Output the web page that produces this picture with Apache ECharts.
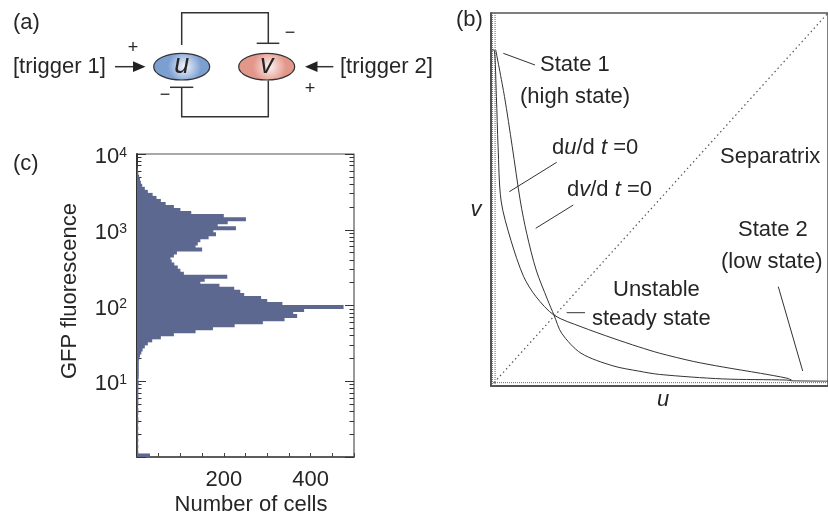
<!DOCTYPE html>
<html>
<head>
<meta charset="utf-8">
<title>Toggle switch</title>
<script src="https://cdn.jsdelivr.net/npm/echarts@6.0.0/dist/echarts.min.js"></script>
<style>
  html, body { margin: 0; padding: 0; background: #fff; }
  #chart { width: 828px; height: 518px; }
</style>
</head>
<body>
<div id="chart"></div>
<script>
// (c) histogram, log10 bins of GFP fluorescence, counts
var binStart = 0;      // log10 of lowest edge (10^0)
var binWidth = 0.04;   // log10 width of a bin
var cellCounts = [
  30, 3, 2, 3, 2, 3, 2, 3, 2, 3,
  2, 3, 3, 2, 3, 3, 2, 3, 3, 3,
  3, 3, 3, 3, 4, 3, 4, 4, 4, 4,
  4, 4, 5, 7, 10, 13, 18, 25, 35, 55,
  85, 135, 175, 225, 290, 340, 369, 360, 385, 476,
  335, 300, 286, 247, 238, 224, 190, 146, 156, 208,
  108, 100, 94, 86, 80, 77, 85, 92, 150, 135,
  140, 146, 165, 182, 176, 228, 186, 209, 251, 200,
  125, 100, 85, 66, 55, 45, 36, 25, 18, 12,
  9, 7, 5, 3, 2, 1
];
var countTicks = [200, 400];
var fluorDecades = [1, 2, 3, 4];

// (b) nullclines, (u, v), both axes 0..1
var duNullcline = [
  [0.003, 0.901], [0.009, 0.901], [0.016, 0.776], [0.021, 0.642], [0.030, 0.496],
  [0.059, 0.391], [0.097, 0.293], [0.134, 0.239], [0.187, 0.190], [0.267, 0.159],
  [0.362, 0.128], [0.438, 0.105], [0.500, 0.088], [0.600, 0.066], [0.688, 0.051],
  [0.800, 0.034], [0.878, 0.021], [0.892, 0.016]
];
var dvNullcline = [
  [0.014, 0.901], [0.040, 0.776], [0.063, 0.642], [0.087, 0.496], [0.106, 0.409],
  [0.134, 0.311], [0.168, 0.231], [0.187, 0.190], [0.210, 0.141], [0.267, 0.088],
  [0.362, 0.054], [0.438, 0.040], [0.500, 0.031], [0.688, 0.019], [0.878, 0.016],
  [0.892, 0.014], [1.0, 0.013]
];
var separatrix = [[0, 0], [1, 1]];
var uZeroLine1 = [[0.004, 0], [0.004, 1]];
var uZeroLine2 = [[0.012, 0], [0.012, 1]];
var vZeroLine = [[0, 0.009], [1, 0.009]];

var ink = '#262626';
var fam = '"Liberation Sans", Arial, sans-serif';

var minorTicks = [];
for (var d = 0; d < 4; d++) {
  for (var k = 2; k <= 9; k++) minorTicks.push(d + Math.log10(k));
}

var histData = cellCounts.map(function (c, i) {
  return [c, binStart + i * binWidth, binStart + (i + 1) * binWidth];
});

function renderBin(params, api) {
  var p0 = api.coord([0, api.value(1)]);
  var p1 = api.coord([api.value(0), api.value(2)]);
  // half a pixel of overlap so neighbouring bins don't leave seams
  return {
    type: 'rect',
    shape: { x: p0[0], y: p1[1] - 0.5, width: p1[0] - p0[0], height: p0[1] - p1[1] + 1 },
    style: { fill: '#5c6890' }
  };
}

function text(x, y, str, size, extra) {
  var el = {
    type: 'text', x: x, y: y, z: 100,
    style: {
      text: str, fill: ink, font: (size || 22) + 'px ' + fam,
      align: 'left', verticalAlign: 'middle',
      textAlign: 'left', textVerticalAlign: 'middle'
    }
  };
  if (extra) {
    for (var key in extra) {
      if (key === 'style') {
        for (var s in extra.style) el.style[s] = extra.style[s];
      } else el[key] = extra[key];
    }
  }
  return el;
}
function seg(pts, w) {
  return { type: 'polyline', z: 100, shape: { points: pts }, style: { stroke: '#333', lineWidth: w || 1, fill: null } };
}
function italic(size) {
  return { fontSize: size, fontFamily: fam, fontStyle: 'italic', fill: ink };
}
function roman(size) {
  return { fontSize: size, fontFamily: fam, fill: ink };
}

var dotted = { color: '#666', width: 1, type: 'dotted' };

var option = {
  animation: false,
  backgroundColor: '#fff',
  grid: [
    { left: 137, top: 154, width: 217, height: 303, show: true, borderColor: '#555', borderWidth: 1.2 },
    { left: 491, top: 13, width: 352, height: 373, show: true, borderColor: '#555', borderWidth: 1.5 }
  ],
  xAxis: [
    {
      gridIndex: 0, type: 'value', min: 0, max: 500, interval: 50, position: 'bottom',
      axisLine: { show: true, lineStyle: { color: '#444', width: 1.5 } },
      axisTick: { inside: true, length: 4, lineStyle: { color: '#444' } },
      axisLabel: {
        color: ink, fontSize: 22, fontFamily: fam, margin: 12,
        formatter: function (v) { return countTicks.indexOf(v) >= 0 ? String(v) : ''; }
      },
      splitLine: { show: false }
    },
    {
      gridIndex: 0, type: 'value', min: 0, max: 500, position: 'top',
      axisLine: { show: false }, axisTick: { show: false }, axisLabel: { show: false }, splitLine: { show: false }
    },
    {
      gridIndex: 1, type: 'value', min: 0, max: 1,
      axisLine: { show: true, lineStyle: { color: '#444', width: 1.5 } },
      axisTick: { show: false }, axisLabel: { show: false }, splitLine: { show: false }
    }
  ],
  yAxis: [
    {
      gridIndex: 0, type: 'value', min: 0, max: 4, interval: 1, position: 'left',
      axisLine: { show: true, lineStyle: { color: '#333', width: 2 } },
      axisTick: { inside: true, length: 9, lineStyle: { color: '#333' } },
      axisLabel: {
        color: ink, fontSize: 22, fontFamily: fam, margin: 10, padding: [6, 0, 0, 0],
        formatter: function (v) { return fluorDecades.indexOf(v) >= 0 ? '10{s|' + v + '}' : ''; },
        rich: { s: { fontSize: 14, fontFamily: fam, color: ink, verticalAlign: 'top', lineHeight: 14 } }
      },
      splitLine: { show: false }
    },
    {
      gridIndex: 0, type: 'value', min: 0, max: 4, position: 'left',
      axisLine: { show: false },
      axisTick: { inside: true, length: 4.5, customValues: minorTicks, lineStyle: { color: '#333' } },
      axisLabel: { show: false }, splitLine: { show: false }
    },
    {
      gridIndex: 0, type: 'value', min: 0, max: 4, interval: 1, position: 'right',
      axisLine: { show: false },
      axisTick: { inside: true, length: 9, lineStyle: { color: '#333' } },
      axisLabel: { show: false }, splitLine: { show: false }
    },
    {
      gridIndex: 0, type: 'value', min: 0, max: 4, position: 'right',
      axisLine: { show: false },
      axisTick: { inside: true, length: 4.5, customValues: minorTicks, lineStyle: { color: '#333' } },
      axisLabel: { show: false }, splitLine: { show: false }
    },
    {
      gridIndex: 1, type: 'value', min: 0, max: 1,
      axisLine: { show: true, lineStyle: { color: '#444', width: 1.5 } },
      axisTick: { show: false }, axisLabel: { show: false }, splitLine: { show: false }
    }
  ],
  series: [
    {
      type: 'custom', name: 'cells', xAxisIndex: 0, yAxisIndex: 0,
      renderItem: renderBin, encode: { x: 0, y: [1, 2] }, data: histData, clip: true, silent: true
    },
    {
      type: 'line', xAxisIndex: 2, yAxisIndex: 4, data: separatrix, showSymbol: false, silent: true,
      lineStyle: { color: '#555', width: 1.2, type: [1.5, 3] }
    },
    {
      type: 'line', xAxisIndex: 2, yAxisIndex: 4, data: uZeroLine1, showSymbol: false, silent: true, lineStyle: dotted
    },
    {
      type: 'line', xAxisIndex: 2, yAxisIndex: 4, data: uZeroLine2, showSymbol: false, silent: true, lineStyle: dotted
    },
    {
      type: 'line', xAxisIndex: 2, yAxisIndex: 4, data: vZeroLine, showSymbol: false, silent: true, lineStyle: dotted
    },
    {
      type: 'line', name: 'du/dt=0', xAxisIndex: 2, yAxisIndex: 4, data: duNullcline, smooth: 0.3,
      showSymbol: false, silent: true, lineStyle: { color: '#333', width: 1 }
    },
    {
      type: 'line', name: 'dv/dt=0', xAxisIndex: 2, yAxisIndex: 4, data: dvNullcline, smooth: 0.3,
      showSymbol: false, silent: true, lineStyle: { color: '#333', width: 1 }
    }
  ],
  graphic: [
    // panel letters
    text(13, 23, '(a)'),
    text(456, 20, '(b)'),
    text(13, 164, '(c)'),

    // (a) wiring diagram
    seg([[181.7, 45], [181.7, 12.7], [268.3, 12.7], [268.3, 43.3]], 1.5),
    seg([[256.7, 43.3], [279.3, 43.3]], 1.5),
    seg([[268.3, 80.5], [268.3, 116.7], [181.7, 116.7], [181.7, 87.3]], 1.5),
    seg([[170, 87.3], [193.3, 87.3]], 1.5),
    {
      type: 'ellipse', z: 100, shape: { cx: 181.7, cy: 66.7, rx: 28, ry: 13.3 },
      style: {
        stroke: '#333', lineWidth: 1.2,
        fill: new echarts.graphic.RadialGradient(0.55, 0.5, 0.6, [
          { offset: 0, color: '#f4f7fc' }, { offset: 1, color: '#7c9fd2' }
        ])
      }
    },
    {
      type: 'ellipse', z: 100, shape: { cx: 266.7, cy: 66.7, rx: 28, ry: 13.3 },
      style: {
        stroke: '#333', lineWidth: 1.2,
        fill: new echarts.graphic.RadialGradient(0.55, 0.5, 0.6, [
          { offset: 0, color: '#fcf3f1' }, { offset: 1, color: '#e3968a' }
        ])
      }
    },
    text(181.7, 65, 'u', 27, { style: { align: 'center', textAlign: 'center', font: 'italic 27px ' + fam } }),
    text(266.7, 65, 'v', 27, { style: { align: 'center', textAlign: 'center', font: 'italic 27px ' + fam } }),
    text(13, 67, '[trigger 1]'),
    text(340, 67, '[trigger 2]'),
    seg([[115, 66.7], [134, 66.7]], 1.5),
    { type: 'polygon', z: 100, shape: { points: [[145.5, 66.7], [133, 61.3], [133, 72.1]] }, style: { fill: '#222' } },
    seg([[316, 66.7], [333.3, 66.7]], 1.5),
    { type: 'polygon', z: 100, shape: { points: [[305, 66.7], [317.5, 61.3], [317.5, 72.1]] }, style: { fill: '#222' } },
    text(133, 48, '+', 18, { style: { align: 'center', textAlign: 'center' } }),
    text(290, 33, '\u2212', 18, { style: { align: 'center', textAlign: 'center' } }),
    text(165, 95, '\u2212', 18, { style: { align: 'center', textAlign: 'center' } }),
    text(310, 89, '+', 18, { style: { align: 'center', textAlign: 'center' } }),

    // (c) axis titles
    text(70, 291, 'GFP fluorescence', 22, {
      rotation: Math.PI / 2,
      style: { align: 'center', textAlign: 'center' }
    }),
    text(251, 505, 'Number of cells', 22, { style: { align: 'center', textAlign: 'center' } }),

    // (b) annotations
    text(476, 210, 'v', 22, { style: { align: 'center', textAlign: 'center', font: 'italic 22px ' + fam } }),
    text(663, 400, 'u', 22, { style: { align: 'center', textAlign: 'center', font: 'italic 22px ' + fam } }),
    text(540, 65, 'State 1'),
    text(520, 97, '(high state)'),
    text(552, 148, '', 22, {
      style: {
        text: '{r|d}{i|u}{r|/d }{i|t}{r| =0}',
        rich: { r: roman(22), i: italic(22) }
      }
    }),
    text(567, 190, '', 22, {
      style: {
        text: '{r|d}{i|v}{r|/d }{i|t}{r| =0}',
        rich: { r: roman(22), i: italic(22) }
      }
    }),
    text(720, 157, 'Separatrix'),
    text(738, 230, 'State 2'),
    text(721, 262, '(low state)'),
    text(613, 290, 'Unstable'),
    text(592, 319, 'steady state'),
    seg([[503.3, 53.3], [535, 65]]),
    seg([[509.3, 191.7], [556.7, 162.3]]),
    seg([[535.7, 228.3], [573.3, 205]]),
    seg([[566.7, 312.7], [585, 312.7]]),
    seg([[778.3, 286.7], [802.7, 371]])
  ]
};

var chart = echarts.init(document.getElementById('chart'));
chart.setOption(option);
</script>
</body>
</html>
